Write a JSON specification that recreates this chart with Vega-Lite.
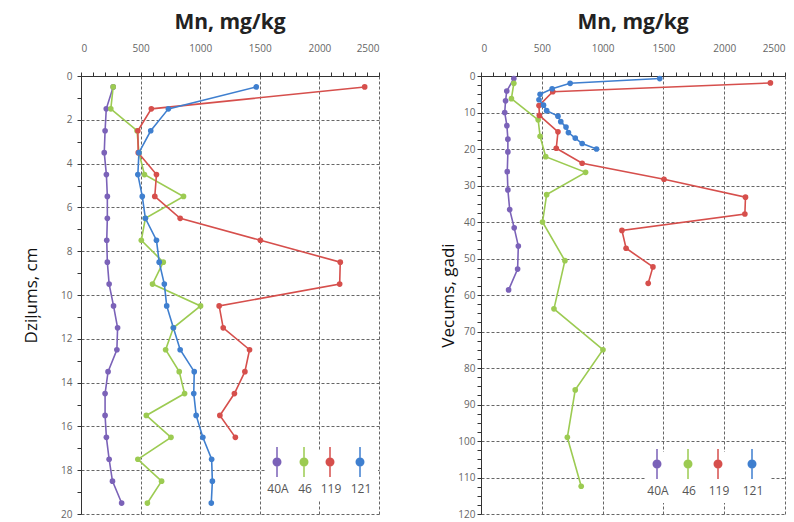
{
  "$schema": "https://vega.github.io/schema/vega-lite/v6.json",
  "background": "white",
  "padding": {"left": 22, "top": 12, "right": 0, "bottom": 0},
  "spacing": 59,
  "config": {
    "view": {"stroke": null},
    "font": "Open Sans",
    "axis": {
      "domainColor": "#333",
      "tickColor": "#333",
      "tickSize": 4,
      "labelColor": "#666",
      "labelFontSize": 10,
      "gridColor": "#666",
      "gridDash": [3, 2],
      "gridWidth": 1
    },
    "legend": {
      "orient": "none",
      "direction": "horizontal",
      "title": null,
      "symbolType": "M0,-3V3M-0.75,0A0.75,0.75 0 1 0 0.75,0A0.75,0.75 0 1 0 -0.75,0Z",
      "symbolSize": 100,
      "symbolStrokeWidth": 1.5,
      "labelAlign": "center",
      "labelBaseline": "top",
      "labelOffset": -5,
      "labelFontSize": 12,
      "labelColor": "#555",
      "columnPadding": 8,
      "fillColor": "white",
      "padding": 6
    },
    "title": {"fontSize": 21, "fontWeight": "bold", "color": "#222", "offset": 10}
  },
  "datasets": {
    "mn": [
      {"series": "40A", "depth": 0.5, "age": 0.7, "value": 270},
      {"series": "40A", "depth": 1.5, "age": 4.1, "value": 212},
      {"series": "40A", "depth": 2.5, "age": 6.8, "value": 202},
      {"series": "40A", "depth": 3.5, "age": 10, "value": 195},
      {"series": "40A", "depth": 4.5, "age": 13.6, "value": 213},
      {"series": "40A", "depth": 5.5, "age": 17.3, "value": 221},
      {"series": "40A", "depth": 6.5, "age": 20.8, "value": 221},
      {"series": "40A", "depth": 7.5, "age": 26.2, "value": 216},
      {"series": "40A", "depth": 8.5, "age": 31.2, "value": 221},
      {"series": "40A", "depth": 9.5, "age": 36.6, "value": 236},
      {"series": "40A", "depth": 10.5, "age": 41.6, "value": 273},
      {"series": "40A", "depth": 11.5, "age": 46.6, "value": 307},
      {"series": "40A", "depth": 12.5, "age": 52.9, "value": 301},
      {"series": "40A", "depth": 13.5, "age": 58.6, "value": 227},
      {"series": "40A", "depth": 14.5, "age": null, "value": 202},
      {"series": "40A", "depth": 15.5, "age": null, "value": 202},
      {"series": "40A", "depth": 16.5, "age": null, "value": 213},
      {"series": "40A", "depth": 17.5, "age": null, "value": 236},
      {"series": "40A", "depth": 18.5, "age": null, "value": 264},
      {"series": "40A", "depth": 19.5, "age": null, "value": 341},
      {"series": "46", "depth": 0.5, "age": 2, "value": 270},
      {"series": "46", "depth": 1.5, "age": 6.2, "value": 250},
      {"series": "46", "depth": 2.5, "age": 12, "value": 470},
      {"series": "46", "depth": 3.5, "age": 16.5, "value": 486},
      {"series": "46", "depth": 4.5, "age": 22.1, "value": 532},
      {"series": "46", "depth": 5.5, "age": 26.4, "value": 860},
      {"series": "46", "depth": 6.5, "age": 32.5, "value": 540},
      {"series": "46", "depth": 7.5, "age": 40, "value": 506},
      {"series": "46", "depth": 8.5, "age": 50.6, "value": 690},
      {"series": "46", "depth": 9.5, "age": 63.8, "value": 600},
      {"series": "46", "depth": 10.5, "age": 75, "value": 1003},
      {"series": "46", "depth": 11.5, "age": 86, "value": 775},
      {"series": "46", "depth": 12.5, "age": 99, "value": 710},
      {"series": "46", "depth": 13.5, "age": 112.4, "value": 824},
      {"series": "46", "depth": 14.5, "age": null, "value": 869},
      {"series": "46", "depth": 15.5, "age": null, "value": 548},
      {"series": "46", "depth": 16.5, "age": null, "value": 755},
      {"series": "46", "depth": 17.5, "age": null, "value": 477},
      {"series": "46", "depth": 18.5, "age": null, "value": 676},
      {"series": "46", "depth": 19.5, "age": null, "value": 557},
      {"series": "119", "depth": 0.5, "age": 1.9, "value": 2380},
      {"series": "119", "depth": 1.5, "age": 4.3, "value": 590},
      {"series": "119", "depth": 2.5, "age": 8.1, "value": 477},
      {"series": "119", "depth": 3.5, "age": 10.8, "value": 480},
      {"series": "119", "depth": 4.5, "age": 15.3, "value": 633},
      {"series": "119", "depth": 5.5, "age": 19.8, "value": 619},
      {"series": "119", "depth": 6.5, "age": 23.9, "value": 832},
      {"series": "119", "depth": 7.5, "age": 28.3, "value": 1505},
      {"series": "119", "depth": 8.5, "age": 33.2, "value": 2175},
      {"series": "119", "depth": 9.5, "age": 37.8, "value": 2170},
      {"series": "119", "depth": 10.5, "age": 42.3, "value": 1159},
      {"series": "119", "depth": 11.5, "age": 47.2, "value": 1193},
      {"series": "119", "depth": 12.5, "age": 52.3, "value": 1414},
      {"series": "119", "depth": 13.5, "age": 56.8, "value": 1375},
      {"series": "119", "depth": 14.5, "age": null, "value": 1287},
      {"series": "119", "depth": 15.5, "age": null, "value": 1165},
      {"series": "119", "depth": 16.5, "age": null, "value": 1295},
      {"series": "121", "depth": 0.5, "age": 0.7, "value": 1470},
      {"series": "121", "depth": 1.5, "age": 2, "value": 733},
      {"series": "121", "depth": 2.5, "age": 3.5, "value": 585},
      {"series": "121", "depth": 3.5, "age": 5, "value": 486},
      {"series": "121", "depth": 4.5, "age": 6.5, "value": 477},
      {"series": "121", "depth": 5.5, "age": 8, "value": 514},
      {"series": "121", "depth": 6.5, "age": 9.5, "value": 540},
      {"series": "121", "depth": 7.5, "age": 11, "value": 633},
      {"series": "121", "depth": 8.5, "age": 12.5, "value": 656},
      {"series": "121", "depth": 9.5, "age": 14, "value": 699},
      {"series": "121", "depth": 10.5, "age": 15.5, "value": 719},
      {"series": "121", "depth": 11.5, "age": 17, "value": 775},
      {"series": "121", "depth": 12.5, "age": 18.5, "value": 832},
      {"series": "121", "depth": 13.5, "age": 20, "value": 950},
      {"series": "121", "depth": 14.5, "age": null, "value": 946},
      {"series": "121", "depth": 15.5, "age": null, "value": 966},
      {"series": "121", "depth": 16.5, "age": null, "value": 1022},
      {"series": "121", "depth": 17.5, "age": null, "value": 1096},
      {"series": "121", "depth": 18.5, "age": null, "value": 1102},
      {"series": "121", "depth": 19.5, "age": null, "value": 1093}
    ]
  },
  "resolve": {"legend": {"color": "independent"}},
  "hconcat": [
    {
      "width": 298,
      "height": 438,
      "data": {"name": "mn"},
      "title": {"text": "Mn, mg/kg"},
      "encoding": {
        "x": {
          "field": "value", "type": "quantitative",
          "scale": {"domain": [0, 2500], "nice": false, "zero": false},
          "axis": {
            "orient": "top", "title": null, "format": "d", "labelPadding": 19,
            "values": [0,100,200,300,400,500,600,700,800,900,1000,1100,1200,1300,1400,1500,1600,1700,1800,1900,2000,2100,2200,2300,2400,2500],
            "labelExpr": "datum.value % 500 === 0 ? datum.label : ''",
            "gridOpacity": {"condition": {"test": "datum.value % 500 === 0", "value": 1}, "value": 0}
          }
        },
        "y": {
          "field": "depth", "type": "quantitative",
          "scale": {"domain": [0, 20], "nice": false, "reverse": true},
          "axis": {
            "title": "Dziļums, cm", "titleFontSize": 17, "titleFontWeight": "normal", "titleColor": "#111", "titlePadding": 20, "labelPadding": 5, "format": "d",
            "values": [0,0.5,1,1.5,2,2.5,3,3.5,4,4.5,5,5.5,6,6.5,7,7.5,8,8.5,9,9.5,10,10.5,11,11.5,12,12.5,13,13.5,14,14.5,15,15.5,16,16.5,17,17.5,18,18.5,19,19.5,20],
            "labelExpr": "datum.value % 2 === 0 ? datum.label : ''",
            "gridOpacity": {"condition": {"test": "datum.value % 2 === 0", "value": 1}, "value": 0}
          }
        },
        "color": {
          "field": "series", "type": "nominal",
          "scale": {"domain": ["40A", "46", "119", "121"], "range": ["#7b62b8", "#9ccb52", "#d64f4c", "#3f7fcf"]},
          "legend": {
            "legendX": 184, "legendY": 374,
            "encoding": {"symbols": {"size": {"value": 100}}, "labels": {"dy": {"value": 22}}}
          }
        },
        "order": {"field": "depth", "type": "quantitative"}
      },
      "layer": [
        {"mark": {"type": "line", "strokeWidth": 1.6}},
        {"mark": {"type": "point", "filled": true, "size": 32, "opacity": 1}}
      ]
    },
    {
      "width": 304,
      "height": 438,
      "data": {"name": "mn"},
      "transform": [{"filter": "isValid(datum.age)"}],
      "title": {"text": "Mn, mg/kg"},
      "encoding": {
        "x": {
          "field": "value", "type": "quantitative",
          "scale": {"domain": [0, 2500], "nice": false, "zero": false},
          "axis": {
            "orient": "top", "title": null, "format": "d", "labelPadding": 19,
            "values": [0,100,200,300,400,500,600,700,800,900,1000,1100,1200,1300,1400,1500,1600,1700,1800,1900,2000,2100,2200,2300,2400,2500],
            "labelExpr": "datum.value % 500 === 0 ? datum.label : ''",
            "gridOpacity": {"condition": {"test": "datum.value % 500 === 0", "value": 1}, "value": 0}
          }
        },
        "y": {
          "field": "age", "type": "quantitative",
          "scale": {"domain": [0, 120], "nice": false, "reverse": true},
          "axis": {
            "title": "Vecums, gadi", "titleFontSize": 17, "titleFontWeight": "normal", "titleColor": "#111", "titlePadding": 0, "format": "d",
            "values": [0,2.5,5,7.5,10,12.5,15,17.5,20,22.5,25,27.5,30,32.5,35,37.5,40,42.5,45,47.5,50,52.5,55,57.5,60,62.5,65,67.5,70,72.5,75,77.5,80,82.5,85,87.5,90,92.5,95,97.5,100,102.5,105,107.5,110,112.5,115,117.5,120],
            "labelExpr": "datum.value % 10 === 0 ? datum.label : ''",
            "gridOpacity": {"condition": {"test": "datum.value % 10 === 0", "value": 1}, "value": 0}
          }
        },
        "color": {
          "field": "series", "type": "nominal",
          "scale": {"domain": ["40A", "46", "119", "121"], "range": ["#7b62b8", "#9ccb52", "#d64f4c", "#3f7fcf"]},
          "legend": {
            "legendX": 164, "legendY": 376, "columnPadding": 12,
            "encoding": {"symbols": {"size": {"value": 100}}, "labels": {"dy": {"value": 22}}}
          }
        },
        "order": {"field": "depth", "type": "quantitative"}
      },
      "layer": [
        {"mark": {"type": "line", "strokeWidth": 1.6}},
        {"mark": {"type": "point", "filled": true, "size": 32, "opacity": 1}}
      ]
    }
  ]
}
